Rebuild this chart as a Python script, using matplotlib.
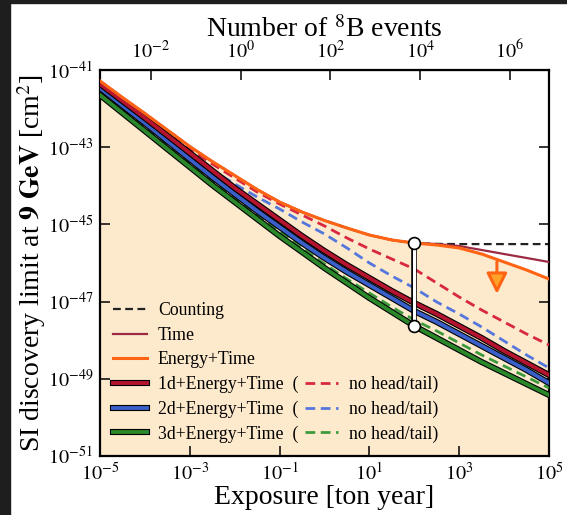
import numpy as np
import matplotlib
matplotlib.use('Agg')
import matplotlib.pyplot as plt
import matplotlib.patheffects as pe
from matplotlib.lines import Line2D
from matplotlib.patches import Rectangle
from matplotlib.ticker import NullLocator

plt.rcParams['font.family'] = 'serif'
plt.rcParams['font.serif'] = ['Liberation Serif', 'DejaVu Serif']
plt.rcParams['mathtext.fontset'] = 'stix'

# exposure in ton year, as log10
log_exposure = [-5, -4.5, -4, -3.5, -3, -2.5, -2, -1.5, -1, -0.5, 0,
                0.5, 1, 1.5, 2, 2.5, 3, 3.5, 4, 4.5, 5]

# discovery limits, log10 of cross section in cm^2
log_counting = [-41.285, -41.712, -42.127, -42.554, -42.982, -43.370, -43.733,
                -44.096, -44.420, -44.679, -44.899, -45.093, -45.275, -45.404,
                -45.49, -45.505, -45.51, -45.51, -45.51, -45.51, -45.51]
log_time = [-41.285, -41.712, -42.127, -42.554, -42.982, -43.370, -43.733,
            -44.096, -44.420, -44.679, -44.899, -45.093, -45.275, -45.404,
            -45.482, -45.508, -45.560, -45.663, -45.767, -45.870, -45.974]
log_energy_time = [-41.285, -41.712, -42.127, -42.554, -42.982, -43.370, -43.733,
                   -44.096, -44.420, -44.679, -44.899, -45.093, -45.275, -45.404,
                   -45.482, -45.534, -45.611, -45.767, -45.974, -46.181, -46.415]
log_1d = [-41.363, -41.803, -42.244, -42.697, -43.150, -43.604, -44.057,
          -44.472, -44.886, -45.301, -45.689, -46.052, -46.389, -46.725,
          -47.036, -47.321, -47.632, -47.943, -48.280, -48.591, -48.902]
log_2d = [-41.466, -41.920, -42.373, -42.839, -43.306, -43.772, -44.212,
          -44.653, -45.067, -45.482, -45.870, -46.233, -46.570, -46.907,
          -47.244, -47.528, -47.839, -48.150, -48.461, -48.772, -49.109]
log_3d = [-41.648, -42.114, -42.580, -43.047, -43.513, -43.979, -44.420,
          -44.860, -45.301, -45.715, -46.130, -46.518, -46.907, -47.269,
          -47.632, -47.943, -48.254, -48.565, -48.850, -49.135, -49.420]
log_1d_nohead = [-41.311, -41.738, -42.166, -42.606, -43.047, -43.435, -43.798,
                 -44.161, -44.472, -44.756, -45.041, -45.352, -45.637, -45.896,
                 -46.155, -46.518, -46.881, -47.218, -47.528, -47.839, -48.124]
log_2d_nohead = [-41.389, -41.842, -42.295, -42.749, -43.202, -43.591, -43.953,
                 -44.290, -44.601, -44.938, -45.249, -45.611, -46.000, -46.337,
                 -46.648, -47.010, -47.321, -47.658, -48.021, -48.383, -48.720]
log_3d_nohead = [-41.544, -42.010, -42.477, -42.943, -43.409, -43.876, -44.316,
                 -44.756, -45.171, -45.611, -46.026, -46.415, -46.777, -47.140,
                 -47.477, -47.762, -48.073, -48.383, -48.668, -48.953, -49.238]

# marker at 100 ton year, arrow at ~7000 ton year
marker_exposure = 100
marker_top, marker_bottom = -45.482, -47.632
arrow_exposure = 10**3.84
arrow_from, arrow_to = -45.97, -46.80

events_per_exposure = 74.0

x = 10.0**np.array(log_exposure)
def cs(v):
    return 10.0**np.array(v)

fig = plt.figure(figsize=(5.67, 5.15), dpi=100)
ax = fig.add_axes([100/567, 1-456/515, 449/567, 386/515])
ax.set_xscale('log')
ax.set_yscale('log')
ax.set_xlim(1e-5, 1e5)
ax.set_ylim(1e-51, 1e-41)

ax.fill_between(x, 1e-51, cs(log_energy_time), color='#fde9cb', lw=0, zorder=0)

outline = [pe.Stroke(linewidth=4.4, foreground='black'), pe.Normal()]
dash = (0, (3.5, 2))

ax.plot(x, cs(log_counting), ls=dash, color='#222222', lw=1.6, zorder=2)
ax.plot(x, cs(log_time), color='#9c2a44', lw=1.6, zorder=3)
h_3dn, = ax.plot(x, cs(log_3d_nohead), ls=dash, color='#3c9a3c', lw=2, zorder=4)
h_3d, = ax.plot(x, cs(log_3d), color='#2a872a', lw=2.8, zorder=5, path_effects=outline)
h_2dn, = ax.plot(x, cs(log_2d_nohead), ls=dash, color='#5577dd', lw=2, zorder=4)
h_2d, = ax.plot(x, cs(log_2d), color='#3a5fc8', lw=2.8, zorder=5, path_effects=outline)
h_1dn, = ax.plot(x, cs(log_1d_nohead), ls=dash, color='#d8283f', lw=2, zorder=4)
h_1d, = ax.plot(x, cs(log_1d), color='#b5142f', lw=2.8, zorder=6, path_effects=outline)
ax.plot(x, cs(log_energy_time), color='#ff6414', lw=2.2, zorder=7)

# white bar with end circles
ax.plot([marker_exposure, marker_exposure], [10**marker_top, 10**marker_bottom],
        color='white', lw=2.2, zorder=8,
        path_effects=[pe.Stroke(linewidth=4, foreground='black'), pe.Normal()])
ax.plot([marker_exposure, marker_exposure], [10**marker_top, 10**marker_bottom],
        ls='none', marker='o', ms=8.5, mfc='white', mec='black', mew=1.2, zorder=9)

ax.annotate('', xy=(arrow_exposure, 10**arrow_to), xytext=(arrow_exposure, 10**arrow_from),
            arrowprops=dict(arrowstyle='-|>,head_width=0.45,head_length=0.9',
                            mutation_scale=14, fc='#ffa228', ec='#ff6414', lw=2.2,
                            shrinkA=0, shrinkB=0),
            zorder=8)

# legend
blank = Line2D([], [], color='none')
h_count = Line2D([], [], ls=dash, color='#222222', lw=1.6)
h_time = Line2D([], [], color='#9c2a44', lw=1.6)
h_et = Line2D([], [], color='#ff6414', lw=2.2)
handles = [h_count, h_time, h_et, h_1d, h_2d, h_3d,
           blank, blank, blank, h_1dn, h_2dn, h_3dn]
labels = ['Counting', 'Time', 'Energy+Time',
          '1d+Energy+Time  (', '2d+Energy+Time  (', '3d+Energy+Time  (',
          '', '', '', 'no head/tail)', 'no head/tail)', 'no head/tail)']
ax.legend(handles, labels, ncol=2, loc='lower left', bbox_to_anchor=(0.0, 0.0),
          frameon=False, fontsize=12.8, handlelength=1.9, handletextpad=0.6,
          columnspacing=0.35, labelspacing=0.42, borderpad=0.55, borderaxespad=0.2)

ticks_x = [1e-5, 1e-3, 1e-1, 1e1, 1e3, 1e5]
ax.set_xticks(ticks_x, [r'$10^{-5}$', r'$10^{-3}$', r'$10^{-1}$', r'$10^{1}$', r'$10^{3}$', r'$10^{5}$'])
ticks_y = [1e-51, 1e-49, 1e-47, 1e-45, 1e-43, 1e-41]
ax.set_yticks(ticks_y, [r'$10^{-51}$', r'$10^{-49}$', r'$10^{-47}$', r'$10^{-45}$', r'$10^{-43}$', r'$10^{-41}$'])
ax.xaxis.set_minor_locator(NullLocator())
ax.yaxis.set_minor_locator(NullLocator())
ax.tick_params(which='major', direction='in', length=7, width=1.1, labelsize=14.5,
               right=True, top=False, pad=5)
for s in ax.spines.values():
    s.set_linewidth(1.6)

ax.set_xlabel('Exposure [ton year]', fontsize=20, labelpad=0)
ax.set_ylabel(r'SI discovery limit at $\mathbf{9\ GeV}$ [cm$^2$]', fontsize=20, labelpad=0)

secax = ax.secondary_xaxis('top', functions=(lambda e: e*events_per_exposure,
                                             lambda n: n/events_per_exposure))
secax.set_xticks([1e-2, 1e0, 1e2, 1e4, 1e6],
                 [r'$10^{-2}$', r'$10^{0}$', r'$10^{2}$', r'$10^{4}$', r'$10^{6}$'])
secax.xaxis.set_minor_locator(NullLocator())
secax.tick_params(direction='in', length=7, width=1.1, labelsize=14.5, pad=5)
secax.set_xlabel(r'Number of $^8$B events', fontsize=20, labelpad=2)

# dark screenshot border
fig.add_artist(Rectangle((0, 0), 10/567, 1, transform=fig.transFigure, color='#1e1e1e', zorder=10))
fig.add_artist(Rectangle((0, 1-3/515), 1, 3/515, transform=fig.transFigure, color='#1e1e1e', zorder=10))

fig.savefig('out.png', dpi=100)
